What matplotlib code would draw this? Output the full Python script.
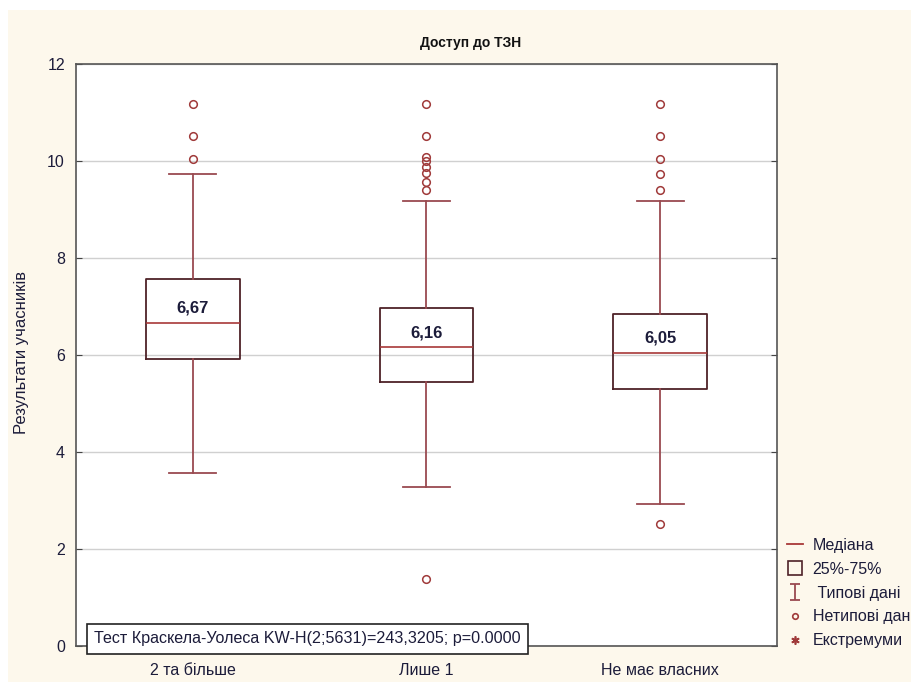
import matplotlib.pyplot as plt
from matplotlib.lines import Line2D
from matplotlib.patches import Rectangle
from matplotlib.path import Path

plt.rcParams['font.family'] = ['Liberation Sans', 'DejaVu Sans']

# data
categories = ['2 та більше', 'Лише 1', 'Не має власних']
medians = [6.67, 6.16, 6.05]
q1 = [5.92, 5.44, 5.29]
q3 = [7.57, 6.96, 6.84]
whisk_lo = [3.57, 3.28, 2.93]
whisk_hi = [9.73, 9.18, 9.18]
outliers = [
    [11.17, 10.52, 10.05],
    [11.17, 10.52, 10.09, 9.99, 9.88, 9.75, 9.57, 9.40, 1.38],
    [11.17, 10.52, 10.05, 9.74, 9.40, 2.52],
]
median_labels = ['6,67', '6,16', '6,05']
yticks = [0, 2, 4, 6, 8, 10, 12]

box_col = '#4e2228'
whisk_col = '#9a4a50'
med_col = '#a83838'
pt_col = '#a03a3a'
txt_col = '#1c1c3a'

fig = plt.figure(figsize=(9.12, 6.82), dpi=100)
fig.patch.set_facecolor('white')
fig.patches.append(Rectangle((8 / 912, 0), 1, 1 - 10 / 682, transform=fig.transFigure,
                             facecolor='#fdf8ec', edgecolor='none', zorder=-10))
ax = fig.add_axes([76 / 912, 1 - 646 / 682, 701 / 912, 582 / 682])
ax.set_facecolor('white')

stats = []
for i in range(len(categories)):
    stats.append(dict(med=medians[i], q1=q1[i], q3=q3[i],
                      whislo=whisk_lo[i], whishi=whisk_hi[i], fliers=outliers[i]))
pos = list(range(1, len(categories) + 1))
ax.bxp(stats, positions=pos, widths=0.40, showfliers=True,
       boxprops=dict(color=box_col, linewidth=1.3),
       whiskerprops=dict(color=whisk_col, linewidth=1.3),
       capprops=dict(color=whisk_col, linewidth=1.3),
       medianprops=dict(color=med_col, linewidth=1.2),
       flierprops=dict(marker='o', markerfacecolor='none', markeredgecolor=pt_col,
                       markersize=5.5, markeredgewidth=1.1),
       capwidths=0.2, zorder=3)

for p, m, lab in zip(pos, medians, median_labels):
    ax.annotate(lab, (p, m), xytext=(0, 5), textcoords='offset points',
                ha='center', va='bottom', fontsize=12, fontweight='bold', color=txt_col)

ax.set_xlim(0.5, 3.5)
ax.set_ylim(0, 12)
ax.set_yticks(yticks)
ax.set_yticklabels([str(v) for v in yticks])
ax.set_xticks(pos)
ax.set_xticklabels(categories)
ax.yaxis.grid(True, color='#d0d0d0', linewidth=1)
ax.set_axisbelow(True)
ax.tick_params(axis='y', direction='in', length=4, right=True, labelsize=11.5,
               labelcolor=txt_col, color='#444444', pad=8)
ax.tick_params(axis='x', length=0, labelsize=11.5, labelcolor=txt_col, pad=12)
for s in ax.spines.values():
    s.set_color('#555555')
    s.set_linewidth(1.2)

fig.text(471 / 912, 1 - 43 / 682, 'Доступ до ТЗН', ha='center', va='center',
         fontsize=10, fontweight='bold', color='#111111')
fig.text(22 / 912, 1 - 352 / 682, 'Результати учасників', rotation=90,
         ha='center', va='center', fontsize=12, color=txt_col)

fig.text(94 / 912, 1 - 639 / 682, 'Тест Краскела-Уолеса KW-H(2;5631)=243,3205; p=0.0000',
         ha='left', va='center', fontsize=11.6, color=txt_col,
         bbox=dict(boxstyle='square,pad=0.45', facecolor='white', edgecolor='#222222',
                   linewidth=1.2))

# I-shaped marker for the whisker legend entry
i_marker = Path([(-0.6, -1), (0.6, -1), (0, -1), (0, 1), (-0.6, 1), (0.6, 1)],
                [Path.MOVETO, Path.LINETO, Path.MOVETO, Path.LINETO, Path.MOVETO, Path.LINETO])
handles = [
    Line2D([], [], color=med_col, linewidth=1.3),
    Line2D([], [], marker='s', linestyle='none', markerfacecolor='none',
           markeredgecolor=box_col, markersize=10, markeredgewidth=1.2),
    Line2D([], [], marker=i_marker, linestyle='none', markerfacecolor='none',
           markeredgecolor=whisk_col, markersize=12, markeredgewidth=1.3),
    Line2D([], [], marker='o', linestyle='none', markerfacecolor='none',
           markeredgecolor=pt_col, markersize=4, markeredgewidth=1.2),
    Line2D([], [], marker=(6, 2, 0), linestyle='none', color=pt_col, markersize=6,
           markeredgewidth=1.2),
]
labels = ['Медіана', '25%-75%', ' Типові дані', 'Нетипові дані', 'Екстремуми']
fig.legend(handles, labels, loc='upper left', bbox_to_anchor=(787 / 912, 1 - 538 / 682),
           frameon=False, fontsize=11.5, handlelength=1.0, handletextpad=0.6,
           labelspacing=0.55, borderaxespad=0, borderpad=0, labelcolor=txt_col)

fig.savefig('out.png', dpi=100)
